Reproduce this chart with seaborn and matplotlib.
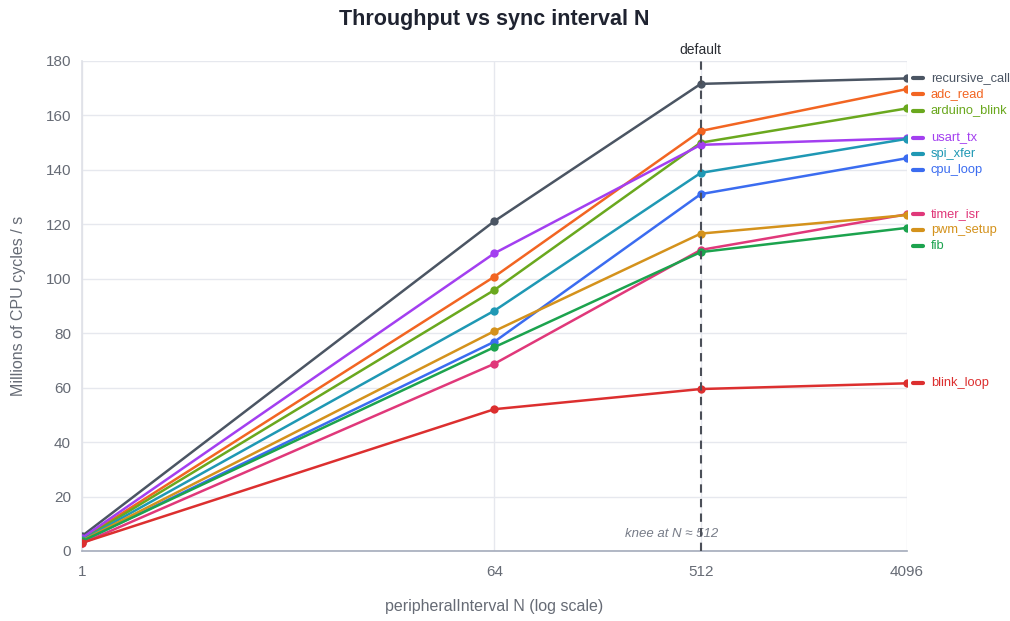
import numpy as np
import pandas as pd
import matplotlib
matplotlib.use("Agg")
import matplotlib.pyplot as plt
import seaborn as sns

N_values = [1, 64, 512, 4096]
series_names = ["recursive_call", "adc_read", "arduino_blink", "usart_tx", "spi_xfer",
                "cpu_loop", "timer_isr", "pwm_setup", "fib", "blink_loop"]
recursive_call = [5.5, 121.2, 171.6, 173.6]
adc_read = [4.5, 100.8, 154.3, 169.7]
arduino_blink = [4.2, 95.9, 150.0, 162.6]
usart_tx = [4.8, 109.4, 149.2, 151.6]
spi_xfer = [4.0, 88.3, 138.9, 151.4]
cpu_loop = [3.5, 76.9, 131.1, 144.3]
timer_isr = [2.8, 68.8, 110.6, 123.7]
pwm_setup = [3.8, 80.8, 116.6, 123.4]
fib = [3.6, 74.9, 109.8, 118.7]
blink_loop = [3.0, 52.1, 59.5, 61.6]
values = [recursive_call, adc_read, arduino_blink, usart_tx, spi_xfer,
          cpu_loop, timer_isr, pwm_setup, fib, blink_loop]
colors = ["#4b5563", "#f26522", "#6aa81e", "#a33ff0", "#1f98b4",
          "#3b6cf0", "#e0387a", "#d4921c", "#1ca34e", "#dc2f2f"]
x_ticks = [1, 64, 512, 4096]
y_ticks = [0, 20, 40, 60, 80, 100, 120, 140, 160, 180]

rows = []
for name, vals in zip(series_names, values):
    for n, v in zip(N_values, vals):
        rows.append({"N": n, "value": v, "series": name})
df = pd.DataFrame(rows)

sns.set_theme(style="white")
plt.rcParams["font.family"] = ["Liberation Sans", "DejaVu Sans"]

fig = plt.figure(figsize=(10.1, 6.21), dpi=100)
ax = fig.add_axes([82 / 1010, 70 / 621, 825 / 1010, 490 / 621])

ax.set_xscale("log", base=2)
ax.set_xlim(1, 4096)
ax.set_ylim(0, 180)
ax.set_xticks(x_ticks)
ax.set_xticklabels([str(t) for t in x_ticks])
ax.set_yticks(y_ticks)
ax.minorticks_off()
ax.grid(True, color="#e6e8ee", linewidth=1)
ax.set_axisbelow(True)

palette = dict(zip(series_names, colors))
sns.lineplot(data=df, x="N", y="value", hue="series", palette=palette,
             hue_order=series_names, marker="o", markersize=6, markeredgewidth=0,
             linewidth=1.8, legend=False, ax=ax, zorder=3)

for s in ["top", "right"]:
    ax.spines[s].set_visible(False)
ax.spines["left"].set_color("#e0e2e8")
ax.spines["bottom"].set_color("#a4abbb")
ax.spines["bottom"].set_linewidth(1.2)
ax.tick_params(axis="both", colors="#666b75", labelsize=11, length=0, pad=8)
ax.tick_params(axis="x", pad=10)

ax.axvline(512, color="#4b4f58", linestyle=(0, (4, 3)), linewidth=1.5, zorder=4, ymax=1.006, clip_on=False)
ax.text(512, 181.5, "default", ha="center", va="bottom", fontsize=10, color="#2a2d33")
ax.annotate("knee at N \u2248 512", xy=(512, 0), xytext=(-21, 12), textcoords="offset points",
            ha="center", va="center", fontsize=9.5, style="italic", color="#777c88")

ax.set_title("Throughput vs sync interval N", fontsize=15.5, fontweight="bold", color="#1f2330", pad=26)
ax.set_xlabel("peripheralInterval N (log scale)", fontsize=11.5, color="#666b75", va="center")
ax.xaxis.set_label_coords(0.5, (551 - 607) / 490)
ax.set_ylabel("Millions of CPU cycles / s", fontsize=11.5, color="#666b75", va="center")
ax.yaxis.set_label_coords((18 - 82) / 825, 0.5)

# end labels: push overlapping labels downward
ends = np.array([v[-1] for v in values], dtype=float)
order = np.argsort(-ends)
pos = ends[order].copy()
gap = 5.9
for i in range(1, len(pos)):
    if pos[i - 1] - pos[i] < gap:
        pos[i] = pos[i - 1] - gap
label_y = np.empty_like(pos)
label_y[order] = pos
trans = ax.get_yaxis_transform()
for name, c, yv in zip(series_names, colors, label_y):
    ax.plot([1.007, 1.019], [yv, yv], color=c, linewidth=3, transform=trans, clip_on=False)
    ax.text(1.029, yv, name, color=c, fontsize=9.3, va="center", ha="left", transform=trans)

fig.savefig("out.png", dpi=100)
